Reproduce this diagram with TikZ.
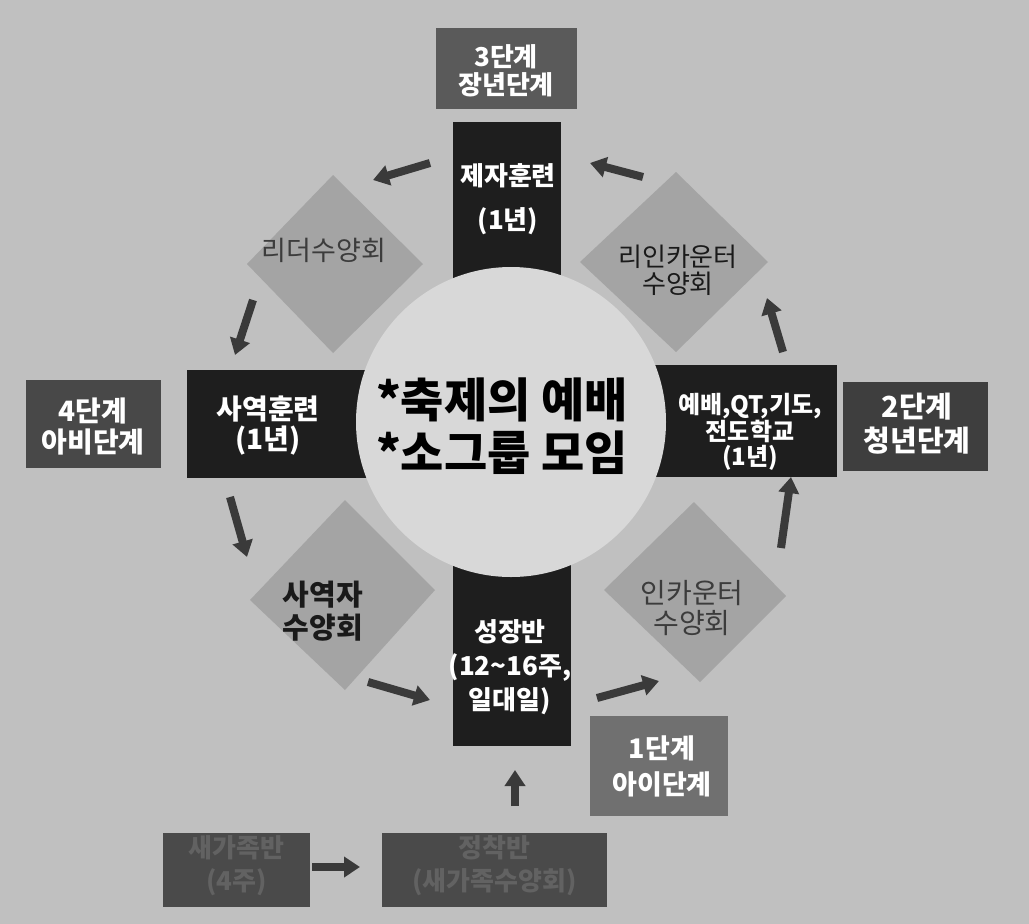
\documentclass[tikz,border=0pt]{standalone}
\usepackage{fontspec}
\setmainfont{Noto Sans CJK KR}
\usetikzlibrary{arrows.meta}
\definecolor{cbg}{HTML}{C0C0C0}
\definecolor{ccirc}{HTML}{D8D8D8}
\definecolor{cdia}{HTML}{A4A4A4}
\definecolor{cblk}{HTML}{1E1E1E}
\definecolor{cst3}{HTML}{5A5A5A}
\definecolor{cst4}{HTML}{484848}
\definecolor{cst2}{HTML}{3E3E3E}
\definecolor{cst1}{HTML}{707070}
\definecolor{cbot}{HTML}{4A4A4A}
\definecolor{cbottxt}{HTML}{626262}
\definecolor{carr}{HTML}{3A3A3A}
\definecolor{cdtxt}{HTML}{1A1A1A}
\definecolor{cdtxtl}{HTML}{3C3C3C}
\newcommand{\fs}[2]{\fontsize{#1pt}{#2pt}\selectfont}
\tikzset{
  wt/.style={text=white, font=\bfseries, align=center, inner sep=0pt},
  dt/.style={text=cdtxt, align=center, inner sep=0pt},
  arr/.style={draw=carr, line width=8pt, -{Triangle[length=16pt,width=20pt]}},
}
\begin{document}
\begin{tikzpicture}[x=1pt,y=-1pt]
\useasboundingbox (0,0) rectangle (1029,924);
\fill[cbg] (0,0) rectangle (1029,924);
% diamonds
\fill[cdia] (333,175) -- (423,264) -- (333,353) -- (247,264) -- cycle;
\fill[cdia] (676,172) -- (768,262) -- (676,352) -- (580,262) -- cycle;
\fill[cdia] (345,500) -- (435,590) -- (345,690) -- (250,600) -- cycle;
\fill[cdia] (694,502) -- (786,596) -- (700,682) -- (604,590) -- cycle;
% dark boxes
\node[fill=cblk, minimum width=108pt, minimum height=160pt, inner sep=0pt] (jejaBox) at (507,202) {};
\node[fill=cblk, minimum width=183pt, minimum height=108pt, inner sep=0pt] (sayeokBox) at (278.5,424) {};
\node[fill=cblk, minimum width=183pt, minimum height=112pt, inner sep=0pt] (yebaeBox) at (745.5,421) {};
\node[fill=cblk, minimum width=118pt, minimum height=187pt, inner sep=0pt] (sungBox) at (512,652.5) {};
% central disc
\fill[ccirc] (511,422) circle[radius=155pt];
% stage boxes
\node[fill=cst3, minimum width=141pt, minimum height=81pt, inner sep=0pt] (st3) at (506.5,68.5) {};
\node[fill=cst4, minimum width=135pt, minimum height=88pt, inner sep=0pt] (st4) at (93.5,424) {};
\node[fill=cst2, minimum width=145pt, minimum height=89pt, inner sep=0pt] (st2) at (915.5,426.5) {};
\node[fill=cst1, minimum width=138pt, minimum height=100pt, inner sep=0pt] (st1) at (659,766) {};
\node[fill=cbot, minimum width=147pt, minimum height=74pt, inner sep=0pt] (botA) at (236.5,870) {};
\node[fill=cbot, minimum width=225pt, minimum height=74pt, inner sep=0pt] (botB) at (494.5,870) {};
% texts
\node[wt, font=\bfseries\fs{26}{28}] (t3) at (506,71) {3단계\\장년단계};
\node[wt, font=\bfseries\fs{28}{31}] (t4) at (93,427) {4단계\\아비단계};
\node[wt, font=\bfseries\fs{29}{34}] (t2) at (917,424) {2단계\\청년단계};
\node[wt, font=\bfseries\fs{27}{36}] (t1) at (662,766) {1단계\\아이단계};
\node[wt, font=\bfseries\fs{26}{44}] (tjeja) at (508,199) {제자훈련\\(1년)};
\node[wt, font=\bfseries\fs{28}{30}] (tsayeok) at (268,426) {사역훈련\\(1년)};
\node[wt, font=\bfseries\fs{24}{25}] (tyebae) at (750,432) {예배,QT,기도,\\전도학교\\(1년)};
\node[wt, font=\bfseries\fs{26}{34}] (tsung) at (510,667) {성장반\\(12\textasciitilde16주,\\일대일)};
\node[align=left, inner sep=0pt, text=black, font=\bfseries\fs{47}{53}] (center) at (502,426) {*축제의 예배\\*소그룹 모임};
\node[dt, text=cdtxtl, font=\fs{27}{28}] (dTL) at (324,250) {리더수양회};
\node[dt, font=\fs{26}{27}] (dTR) at (678,270) {리인카운터\\수양회};
\node[dt, font=\bfseries\fs{29}{33}] (dBL) at (323,611) {사역자\\수양회};
\node[dt, text=cdtxtl, font=\fs{28}{30}] (dBR) at (692,608) {인카운터\\수양회};
\node[wt, text=cbottxt, font=\bfseries\fs{26}{33}] (tA) at (236.5,866) {새가족반\\(4주)};
\node[wt, text=cbottxt, font=\bfseries\fs{26}{33}] (tB) at (494.5,866) {정착반\\(새가족수양회)};
% arrow end points
\coordinate (a1s) at (430,163); \coordinate (a1e) at (373,180);
\coordinate (a2s) at (253,300); \coordinate (a2e) at (235,355);
\coordinate (a3s) at (230,497); \coordinate (a3e) at (247,557);
\coordinate (a4s) at (368,682); \coordinate (a4e) at (430,700);
\coordinate (a5s) at (597,698); \coordinate (a5e) at (659,681);
\coordinate (a6s) at (781,548); \coordinate (a6e) at (791,477);
\coordinate (a7s) at (783,352); \coordinate (a7e) at (767,298);
\coordinate (a8s) at (643,177); \coordinate (a8e) at (590,163);
\coordinate (a9s) at (515,806); \coordinate (a9e) at (515,770);
\coordinate (a10s) at (312,867); \coordinate (a10e) at (360,867);
\foreach \i in {1,...,10} {\draw[arr] (a\i s) -- (a\i e);}
\end{tikzpicture}
\end{document}
